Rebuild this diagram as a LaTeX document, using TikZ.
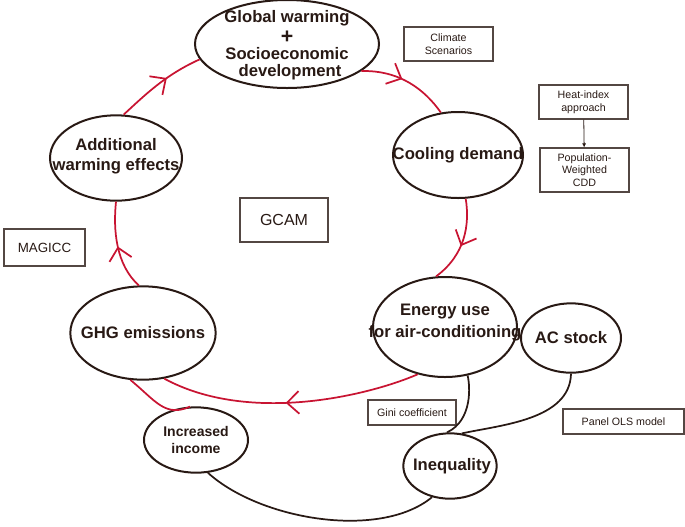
\documentclass[tikz,border=0pt]{standalone}
\usepackage{fontspec}
\setmainfont{Liberation Sans}
\usetikzlibrary{shapes.geometric,arrows.meta,decorations.markings}
\definecolor{ared}{RGB}{200,20,50}
\definecolor{dk}{RGB}{40,25,20}
\begin{document}
\begin{tikzpicture}[x=0.75pt,y=-0.75pt,
  ell/.style={ellipse,draw=dk,line width=1.5pt,inner sep=0pt},
  lab/.style={align=center,font=\bfseries\fontsize{12.5}{15}\selectfont,text=dk,inner sep=0pt},
  box/.style={draw=dk!80,line width=0.8pt,inner sep=0pt,align=center,font=\fontsize{8}{9.5}\selectfont,text=dk},
  rd/.style={draw=ared,line width=1.3pt},
  bk/.style={draw=dk,line width=1.3pt},
  mid/.style={postaction={decorate},decoration={markings,mark=at position #1 with {\arrow[ared,line width=1.3pt]{Straight Barb[length=9pt,width=17pt]}}}}]
\useasboundingbox (0,0) rectangle (685,526);
\node[ell,minimum width=138pt,minimum height=66pt] (glob) at (287,44) {};
\node[lab] at (287,18) {Global warming};
\node[lab,font=\bfseries\fontsize{16}{16}\selectfont] at (287,37) {+};
\node[lab] at (287,54) {Socioeconomic};
\node[lab] at (290,72) {development};
\node[ell,minimum width=97.5pt,minimum height=64.5pt] (cool) at (458,155) {};
\node[lab] at (458,155) {Cooling demand};
\node[ell,minimum width=108pt,minimum height=75pt] (ener) at (445,327) {};
\node[lab] at (445,312) {Energy use};
\node[lab] at (445,333) {for air-conditioning};
\node[ell,minimum width=75pt,minimum height=52pt] (ac) at (571,338) {};
\node[lab] at (571,338) {AC stock};
\node[ell,minimum width=70pt,minimum height=49pt] (ineq) at (450,466) {};
\node[lab] at (452,466) {Inequality};
\node[ell,minimum width=78pt,minimum height=49pt] (inc) at (196,440) {};
\node[lab,font=\bfseries\fontsize{10.5}{13}\selectfont] at (196,440) {Increased\\income};
\node[ell,minimum width=109pt,minimum height=70pt] (ghg) at (143,333) {};
\node[lab] at (143,333) {GHG emissions};
\node[ell,minimum width=99pt,minimum height=64pt] (add) at (116,158) {};
\node[lab] at (116,156) {Additional\\warming effects};
\node[box,minimum width=66.75pt,minimum height=25.5pt] (clim) at (448.5,44) {Climate\\Scenarios};
\node[box,minimum width=66.75pt,minimum height=25.5pt] (heat) at (583.5,102) {Heat-index\\approach};
\node[box,minimum width=66.75pt,minimum height=33pt] (pop) at (584.5,170) {Population-\\Weighted\\CDD};
\node[box,minimum width=66pt,minimum height=33pt,font=\fontsize{12}{14}\selectfont] (gcam) at (284,220) {GCAM};
\node[box,minimum width=60.75pt,minimum height=27.75pt,font=\fontsize{10}{12}\selectfont] (mag) at (44.5,247.5) {MAGICC};
\node[box,minimum width=66pt,minimum height=18.75pt] (gini) at (412,412.5) {Gini coefficient};
\node[box,minimum width=90.75pt,minimum height=18.75pt] (ols) at (623.5,421.5) {Panel OLS model};
% red cycle
\draw[rd,mid=0.45] (glob.-20) .. controls (400,70) and (425,90) .. (cool.112);
\draw[rd,mid=0.55] (cool.-80) .. controls (470,225) and (465,255) .. (ener.100);
\draw[rd,mid=0.52] (ener.-120) .. controls (370,395) and (250,425) .. (ghg.-65);
\draw[rd,mid=0.5] (ghg.95) .. controls (116,265) and (113,230) .. (add.-90);
\draw[rd,mid=0.6] (add.80) .. controls (145,95) and (165,75) .. (glob.190);
\draw[rd] (ghg.-105) .. controls (155,400) and (165,418) .. (inc.100);
% black
\draw[bk] (ener.-65) .. controls (470,385) and (473,420) .. (ineq.95);
\draw[bk] (ac.-90) .. controls (570,420) and (500,425) .. (ineq.70);
\draw[bk] (inc.-70) .. controls (260,520) and (380,540) .. (ineq.-120);
\draw[dk,line width=0.6pt,-{Latex[length=3pt,width=3pt]}] (heat) -- (pop);
\end{tikzpicture}
\end{document}
